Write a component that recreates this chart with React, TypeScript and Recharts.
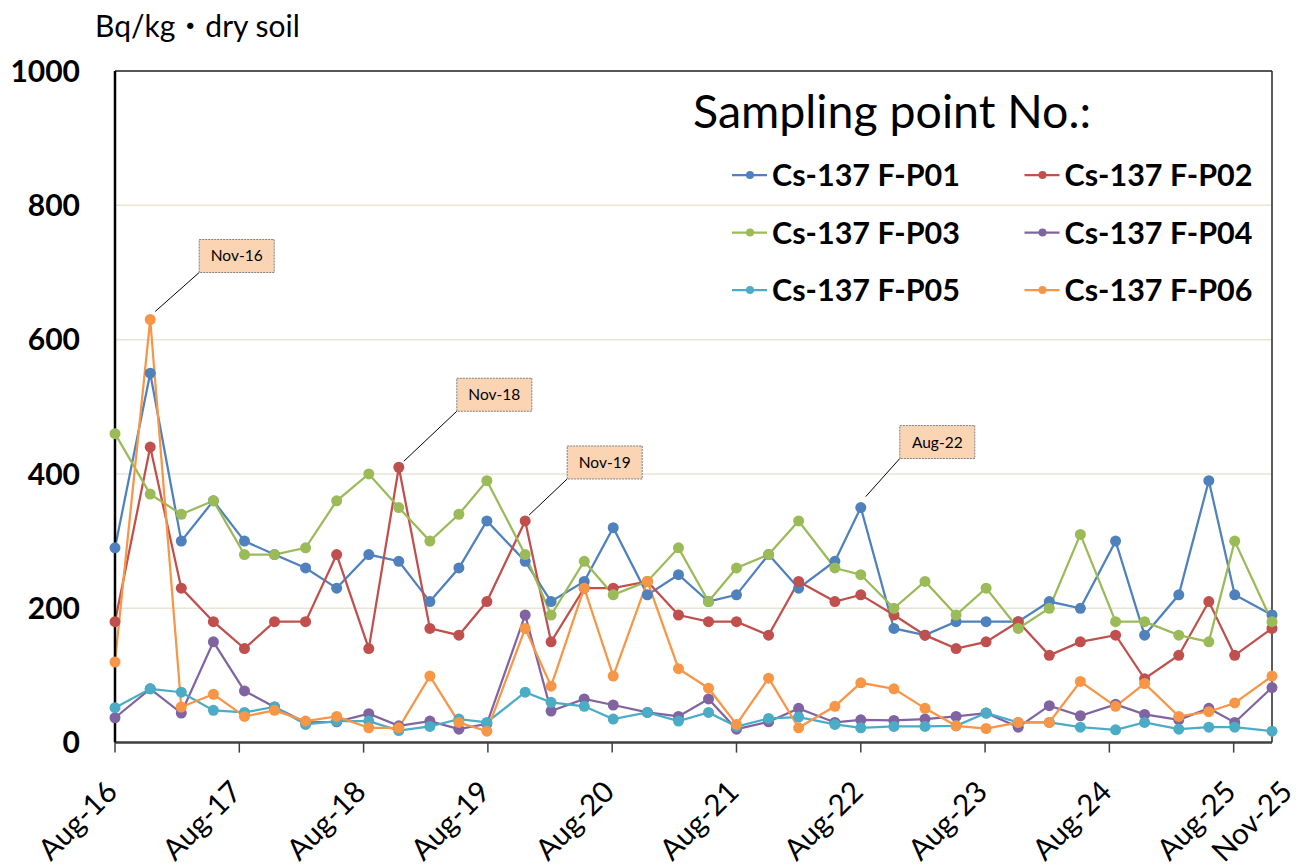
import React from "react";
import {
  LineChart,
  Line,
  XAxis,
  YAxis,
  CartesianGrid,
  Legend,
  ReferenceLine,
  ReferenceDot,
} from "recharts";

// sampling time, in months after Aug-16
const sampleMonths = [
  0, 3.4, 6.4, 9.5, 12.5, 15.4, 18.4, 21.4, 24.5, 27.4, 30.4, 33.2, 35.9, 39.6,
  42.1, 45.3, 48.1, 51.4, 54.4, 57.3, 60.0, 63.1, 66.0, 69.5, 72.0, 75.2, 78.2,
  81.2, 84.1, 87.2, 90.2, 93.2, 96.6, 99.4, 102.7, 105.6, 108.1, 111.7,
];

const tickMonths = [0, 12, 24, 36, 48, 60, 72, 84, 96, 108, 111.7];
const tickLabels = [
  "Aug-16", "Aug-17", "Aug-18", "Aug-19", "Aug-20", "Aug-21",
  "Aug-22", "Aug-23", "Aug-24", "Aug-25", "Nov-25",
];
const yTicks = [0, 200, 400, 600, 800, 1000];

// Bq/kg dry soil
const p01 = [290, 550, 300, 360, 300, 280, 260, 230, 280, 270, 210, 260, 330, 270, 210, 240, 320, 220, 250, 210, 220, 280, 230, 270, 350, 170, 160, 180, 180, 180, 210, 200, 300, 160, 220, 390, 220, 190];
const p02 = [180, 440, 230, 180, 140, 180, 180, 280, 140, 410, 170, 160, 210, 330, 150, 230, 230, 240, 190, 180, 180, 160, 240, 210, 220, 190, 160, 140, 150, 180, 130, 150, 160, 95, 130, 210, 130, 170];
const p03 = [460, 370, 340, 360, 280, 280, 290, 360, 400, 350, 300, 340, 390, 280, 190, 270, 220, 240, 290, 210, 260, 280, 330, 260, 250, 200, 240, 190, 230, 170, 200, 310, 180, 180, 160, 150, 300, 180];
const p04 = [37, 80, 44, 150, 77, 53, 30, 31, 43, 25, 32, 20, 28, 190, 47, 65, 56, 45, 39, 65, 20, 31, 51, 30, 34, 33, 35, 39, 44, 23, 55, 40, 57, 42, 34, 51, 30, 82];
const p05 = [52, 80, 75, 48, 45, 53, 27, 32, 32, 18, 24, 35, 30, 75, 60, 54, 35, 45, 32, 45, 24, 36, 38, 27, 22, 24, 24, 25, 44, 30, 30, 23, 19, 30, 20, 23, 23, 17];
const p06 = [120, 630, 53, 72, 39, 48, 32, 39, 22, 22, 99, 30, 17, 170, 84, 230, 99, 240, 110, 81, 27, 96, 22, 54, 89, 80, 51, 25, 21, 30, 30, 91, 54, 88, 39, 46, 59, 99];

const seriesNames = [
  "Cs-137 F-P01", "Cs-137 F-P02", "Cs-137 F-P03",
  "Cs-137 F-P04", "Cs-137 F-P05", "Cs-137 F-P06",
];
const seriesValues = [p01, p02, p03, p04, p05, p06];

// callouts: label, series index, sample index
const calloutLabels = ["Nov-16", "Nov-18", "Nov-19", "Aug-22"];
const calloutSeries = [5, 1, 1, 0];
const calloutSample = [1, 9, 13, 24];

const colors = ["#4F81BD", "#C0504D", "#9BBB59", "#8064A2", "#4BACC6", "#F79646"];
// leader start (lx, ly) and box bottom-left (bx, by), relative to the point
const calloutPlacement = [
  { lx: 5, ly: -8, bx: 49, by: -47 },
  { lx: 5, ly: -6, bx: 58, by: -56 },
  { lx: 4, ly: -6, bx: 42, by: -42 },
  { lx: 5, ly: -11, bx: 39, by: -49 },
];

const FONT = "Lato, 'Noto Sans CJK JP', sans-serif";
const xMax = tickMonths[tickMonths.length - 1];

const data = sampleMonths.map((m, i) => {
  const row: Record<string, number> = { m };
  seriesValues.forEach((vals, s) => {
    row[`s${s}`] = vals[i];
  });
  return row;
});

const XTick = (props: any) => {
  const { x, y, payload } = props;
  const i = tickMonths.indexOf(payload.value);
  const isLast = i === tickMonths.length - 1;
  return (
    <g>
      {!isLast && (
        <line x1={x} x2={x} y1={y - 10} y2={y} stroke="#404040" strokeWidth={1.5} />
      )}
      <text
        transform={`translate(${x + (isLast ? 22 : 4)},${y + 41}) rotate(-45)`}
        textAnchor="end"
        fontSize={29.5}
        fontFamily={FONT}
        fill="#000"
      >
        {tickLabels[i]}
      </text>
    </g>
  );
};

const renderLegend = (props: any) => {
  const payload = props.payload ?? [];
  return (
    <svg width={600} height={240} style={{ display: "block" }}>
      <text x={3} y={48} fontSize={46.5} fontFamily={FONT} fill="#000">
        Sampling point No.:
      </text>
      {payload.map((entry: any, i: number) => {
        const col = i % 2;
        const row = Math.floor(i / 2);
        const x0 = 42 + col * 292.5;
        const cy = 95 + row * 57.5;
        return (
          <g key={entry.value}>
            <line x1={x0} x2={x0 + 35} y1={cy} y2={cy} stroke={entry.color} strokeWidth={2.25} />
            <circle cx={x0 + 18} cy={cy} r={4} fill={entry.color} />
            <text x={x0 + 40} y={cy + 11} fontSize={30.5} fontWeight="bold" fontFamily={FONT} fill="#000">
              {entry.value}
            </text>
          </g>
        );
      })}
    </svg>
  );
};

const makeCallout = (k: number) => (props: any) => {
  const { cx, cy } = props;
  const p = calloutPlacement[k];
  const bx = cx + p.bx;
  const by = cy + p.by;
  return (
    <g>
      <line x1={cx + p.lx} y1={cy + p.ly} x2={bx} y2={by} stroke="#000" strokeWidth={1} />
      <rect
        x={bx}
        y={by - 33}
        width={75}
        height={33}
        fill="#FBD4B4"
        stroke="#7F7F7F"
        strokeWidth={1}
        strokeDasharray="2 1"
      />
      <text x={bx + 37.5} y={by - 11} textAnchor="middle" fontSize={15.5} fontFamily={FONT} fill="#000">
        {calloutLabels[k]}
      </text>
    </g>
  );
};

export default function App() {
  return (
    <div style={{ position: "relative", width: 1308, height: 868, background: "#fff" }}>
      <style>{"body{margin:0}"}</style>
      <svg width={400} height={50} style={{ position: "absolute", left: 0, top: 0 }}>
        <text x={95} y={37} fontSize={30} fontFamily={FONT} fill="#000">
          Bq/kg・dry soil
        </text>
      </svg>
      <LineChart
        width={1308}
        height={868}
        data={data}
        margin={{ top: 71, right: 36, bottom: 0, left: 0 }}
      >
        <CartesianGrid vertical={false} stroke="#E8E4D6" strokeWidth={1.5} />
        <XAxis
          type="number"
          dataKey="m"
          domain={[0, xMax]}
          ticks={tickMonths}
          interval={0}
          height={125.4}
          tickSize={10}
          tickMargin={0}
          tickLine={false}
          axisLine={{ stroke: "#404040", strokeWidth: 2.5 }}
          tick={<XTick />}
        />
        <YAxis
          type="number"
          domain={[0, 1000]}
          ticks={yTicks}
          interval={0}
          width={115}
          tickSize={0}
          tickMargin={35}
          tickLine={false}
          axisLine={{ stroke: "#000", strokeWidth: 2.5 }}
          tick={{ fontSize: 30, fontWeight: "bold", fill: "#000", fontFamily: FONT }}
        />
        <ReferenceLine y={1000} stroke="#262626" strokeWidth={1.5} />
        <ReferenceLine x={xMax} stroke="#262626" strokeWidth={1.5} />
        {seriesNames.map((name, s) => (
          <Line
            key={name}
            type="linear"
            dataKey={`s${s}`}
            name={name}
            stroke={colors[s]}
            strokeWidth={2.25}
            dot={{ r: 5.5, fill: colors[s], stroke: colors[s], strokeWidth: 0 }}
            isAnimationActive={false}
          />
        ))}
        {calloutLabels.map((label, k) => (
          <ReferenceDot
            key={label}
            x={sampleMonths[calloutSample[k]]}
            y={seriesValues[calloutSeries[k]][calloutSample[k]]}
            r={0}
            shape={makeCallout(k)}
          />
        ))}
        <Legend
          layout="horizontal"
          verticalAlign="middle"
          align="center"
          wrapperStyle={{ left: 690, top: 80, width: 600, height: 240 }}
          content={renderLegend}
        />
      </LineChart>
    </div>
  );
}
